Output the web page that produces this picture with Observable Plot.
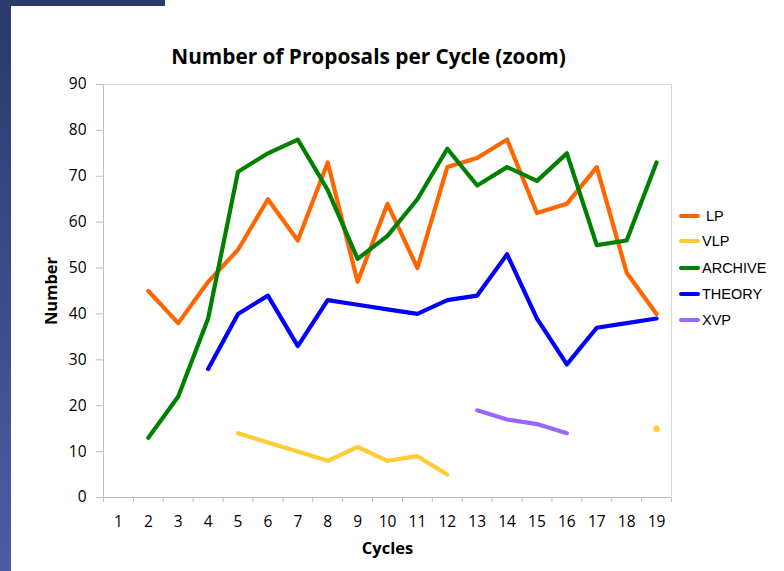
<!DOCTYPE html>
<html><head><meta charset="utf-8">
<script src="https://cdn.jsdelivr.net/npm/d3@7"></script>
<script src="https://cdn.jsdelivr.net/npm/@observablehq/plot@0.6"></script>
<style>
html,body{margin:0;padding:0;background:#fff;}
#wrap{position:relative;width:784px;height:571px;overflow:hidden;background:#fff;}
#chart{position:absolute;left:0;top:0;}
#strip{position:absolute;left:0;top:0;width:11px;height:571px;background:linear-gradient(#2c396d,#4b5ca4);}
#bar{position:absolute;left:0;top:0;width:165px;height:6px;background:#2c396d;}
#title{position:absolute;left:0;width:737px;top:43px;line-height:26px;text-align:center;font-family:"Open Sans";font-weight:bold;font-size:20.8px;color:#000;}
.row{position:absolute;left:679px;height:20px;display:flex;align-items:center;font-family:"Liberation Sans";font-size:14.5px;color:#000;white-space:pre;}
.sw{display:inline-block;width:21px;height:4px;border-radius:2px;margin-right:2px;}
</style>
</head><body>
<div id="wrap">
  <div id="chart"></div>
  <div id="title">Number of Proposals per Cycle (zoom)</div>
  <div id="legend"></div>
  <div id="strip"></div>
  <div id="bar"></div>
</div>
<script>
const cycles = [1,2,3,4,5,6,7,8,9,10,11,12,13,14,15,16,17,18,19];
const yTicks = [0,10,20,30,40,50,60,70,80,90];
const seriesNames = ["LP","VLP","ARCHIVE","THEORY","XVP"];
const seriesColors = ["#ff6600","#ffcc33","#008000","#0000ff","#9966ff"];
const LP      = [null,45,38,47,54,65,56,73,47,64,50,72,74,78,62,64,72,49,40];
const VLP     = [null,null,null,null,14,12,10,8,11,8,9,5,null,null,null,null,null,null,15];
const ARCHIVE = [null,13,22,39,71,75,78,67,52,57,65,76,68,72,69,75,55,56,73];
const THEORY  = [null,null,null,28,40,44,33,43,42,41,40,43,44,53,39,29,37,38,39];
const XVP     = [null,null,null,null,null,null,null,null,null,null,null,null,19,17,16,14,null,null,null];
const seriesValues = [LP, VLP, ARCHIVE, THEORY, XVP];

const bounds = [0, ...cycles].map(c => c + 0.5);

const lineMarks = [];
const dotMarks = [];
seriesValues.forEach((vals, si) => {
  const rows = cycles.map((c, i) => ({cycle: c, value: vals[i]}));
  lineMarks.push(Plot.line(rows, {x: "cycle", y: "value", stroke: seriesColors[si], strokeWidth: 4.2, strokeLinecap: "round", strokeLinejoin: "round"}));
  const iso = rows.filter((r, i) => r.value != null && (i === 0 || vals[i-1] == null) && (i === vals.length - 1 || vals[i+1] == null));
  if (iso.length) dotMarks.push(Plot.dot(iso, {x: "cycle", y: "value", r: 3.2, fill: seriesColors[si], stroke: "none"}));
});

const chart = Plot.plot({
  width: 784, height: 571,
  marginLeft: 103, marginRight: 113, marginTop: 84, marginBottom: 74,
  style: {color: "#bfbfbf", fontFamily: "Open Sans", background: "transparent", overflow: "visible"},
  x: {type: "linear", domain: [0.5, 19.5], ticks: bounds, tickSize: 5, tickFormat: () => "", label: null},
  y: {type: "linear", domain: [0, 90], ticks: yTicks, tickSize: 7, tickFormat: () => "", label: null},
  marks: [
    Plot.frame({stroke: "#d9d9d9"}),
    Plot.ruleY([0], {stroke: "#bfbfbf"}),
    Plot.ruleX([0.5], {stroke: "#bfbfbf"}),
    ...lineMarks,
    ...dotMarks,
    Plot.text(cycles, {x: d => d, frameAnchor: "bottom", dy: 25, lineAnchor: "middle", textAnchor: "middle", text: d => String(d), fill: "#000", fontSize: 15.5, fontFamily: "Open Sans"}),
    Plot.text(yTicks, {y: d => d, frameAnchor: "left", dx: -17, textAnchor: "end", lineAnchor: "middle", text: d => String(d), fill: "#000", fontSize: 15.5, fontFamily: "Open Sans"}),
    Plot.text(["Number"], {frameAnchor: "left", dx: -52, rotate: -90, textAnchor: "middle", lineAnchor: "middle", text: d => d, fill: "#000", fontWeight: "bold", fontSize: 16.5, fontFamily: "Open Sans"}),
    Plot.text(["Cycles"], {frameAnchor: "bottom", dy: 51, textAnchor: "middle", lineAnchor: "middle", text: d => d, fill: "#000", fontWeight: "bold", fontSize: 16.5, fontFamily: "Open Sans"})
  ]
});
document.getElementById("chart").appendChild(chart);

const legendTops = [216, 241, 268, 294, 320];
const legend = document.getElementById("legend");
seriesNames.forEach((name, i) => {
  const row = document.createElement("div");
  row.className = "row";
  row.style.top = (legendTops[i] - 10) + "px";
  const sw = document.createElement("span");
  sw.className = "sw";
  sw.style.background = seriesColors[i];
  row.appendChild(sw);
  row.appendChild(document.createTextNode(name === "LP" ? " LP" : name));
  legend.appendChild(row);
});
</script>
</body></html>
